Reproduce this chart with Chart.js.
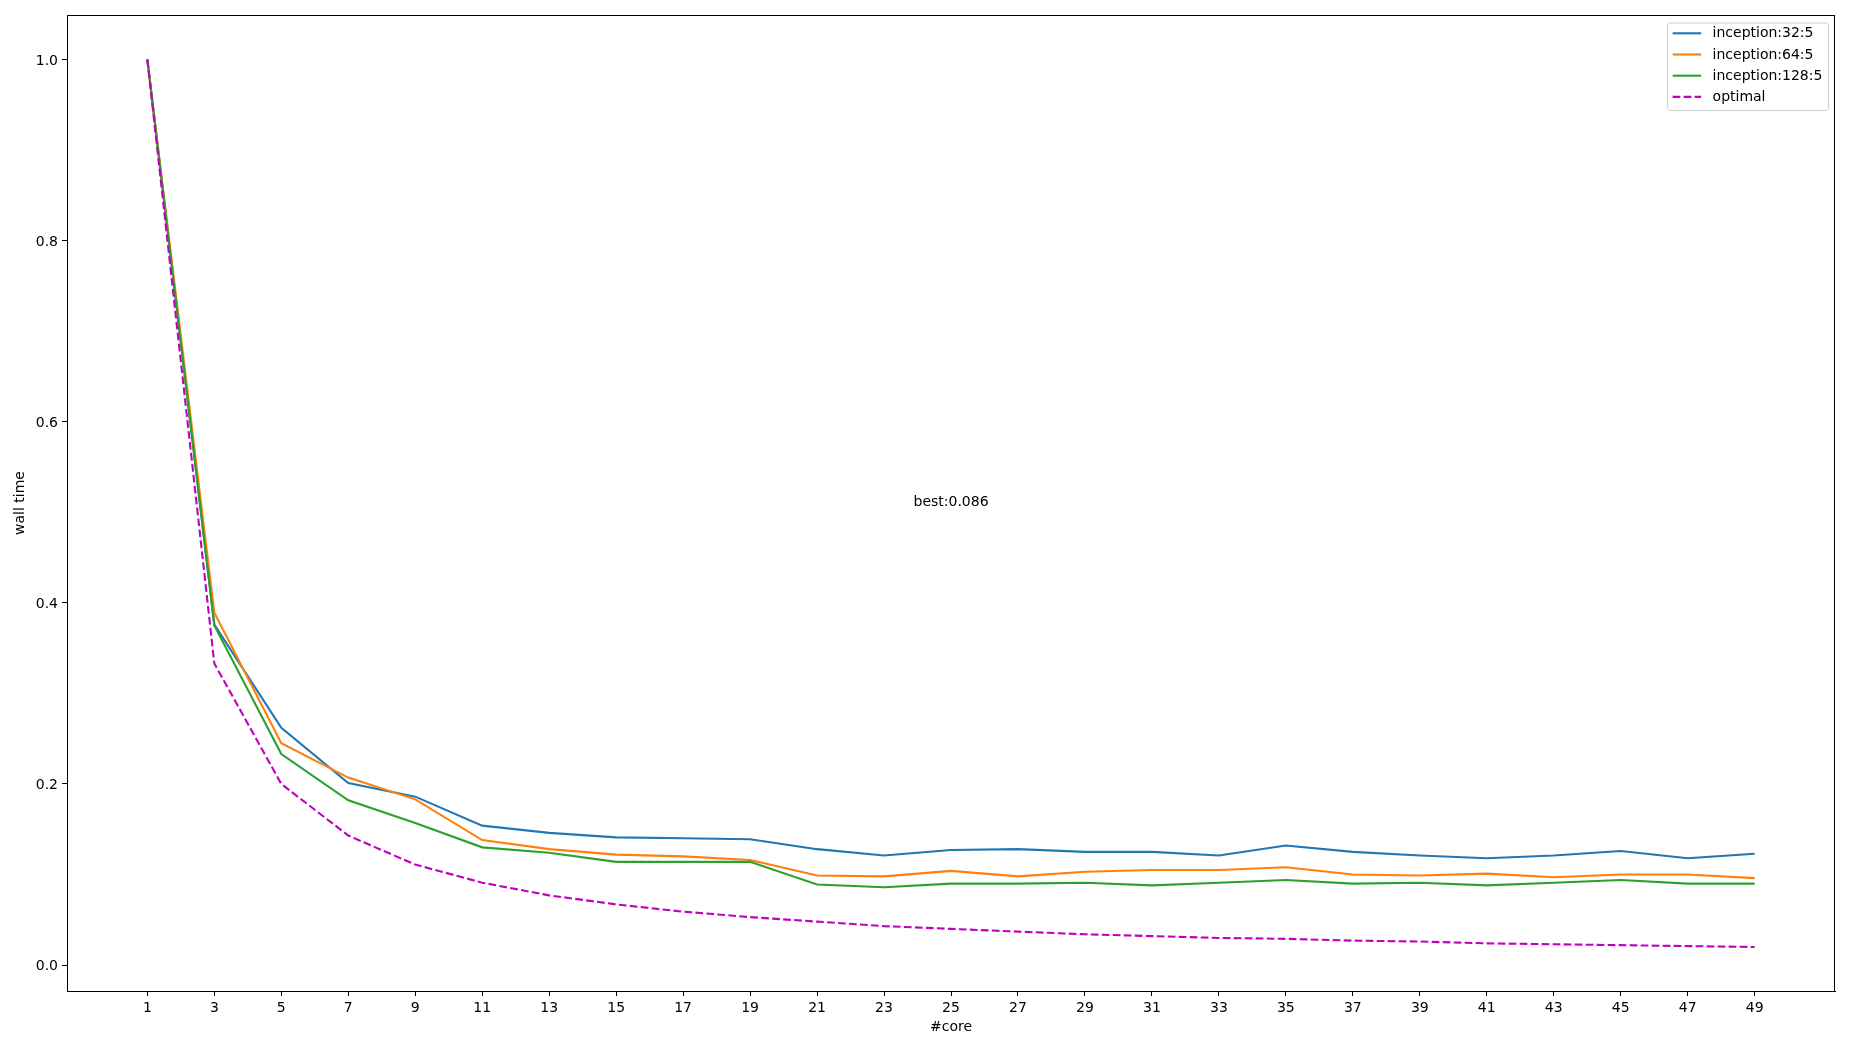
<!DOCTYPE html>
<html>
<head>
<meta charset="utf-8">
<script src="https://cdn.jsdelivr.net/npm/chart.js@4.4.1/dist/chart.umd.min.js"></script>
<style>
  html, body { margin: 0; padding: 0; background: #fff; }
  #wrap { width: 1850px; height: 1050px; }
</style>
</head>
<body>
<div id="wrap"><canvas id="c" width="1850" height="1050"></canvas></div>
<script>
const cores = [1,3,5,7,9,11,13,15,17,19,21,23,25,27,29,31,33,35,37,39,41,43,45,47,49];
const xTickLabels = cores.map(String);
const yTickValues = [0.0, 0.2, 0.4, 0.6, 0.8, 1.0];

const seriesNames = ['inception:32:5', 'inception:64:5', 'inception:128:5', 'optimal'];
const inception32 = [1.0, 0.376, 0.262, 0.201, 0.186, 0.154, 0.146, 0.141, 0.140, 0.139, 0.128, 0.121, 0.127, 0.128, 0.125, 0.125, 0.121, 0.132, 0.125, 0.121, 0.118, 0.121, 0.126, 0.118, 0.123];
const inception64 = [1.0, 0.389, 0.245, 0.207, 0.183, 0.138, 0.128, 0.122, 0.120, 0.116, 0.099, 0.098, 0.104, 0.098, 0.103, 0.105, 0.105, 0.108, 0.100, 0.099, 0.101, 0.097, 0.100, 0.100, 0.096];
const inception128 = [1.0, 0.375, 0.233, 0.182, 0.157, 0.130, 0.124, 0.114, 0.114, 0.114, 0.089, 0.086, 0.090, 0.090, 0.091, 0.088, 0.091, 0.094, 0.090, 0.091, 0.088, 0.091, 0.094, 0.090, 0.090];
const optimal = [1.0, 0.333, 0.200, 0.143, 0.111, 0.091, 0.077, 0.067, 0.059, 0.053, 0.048, 0.043, 0.040, 0.037, 0.034, 0.032, 0.030, 0.029, 0.027, 0.026, 0.024, 0.023, 0.022, 0.021, 0.020];

const annotationText = 'best:0.086';
const annotationX = 23.88;
const annotationY = 0.507;

const FONT = '"DejaVu Sans", sans-serif';
const FS = 14;

function pts(arr) { return cores.map((c, i) => ({x: c, y: arr[i]})); }

const frameAndExtras = {
  id: 'frameAndExtras',
  afterDraw(chart) {
    const ctx = chart.ctx;
    const a = chart.chartArea;
    ctx.save();
    // frame
    ctx.strokeStyle = '#000';
    ctx.lineWidth = 1;
    ctx.strokeRect(Math.round(a.left) + 0.5, Math.round(a.top) + 0.5, Math.round(a.right - a.left) - 1, Math.round(a.bottom - a.top));
    // annotation text
    const xs = chart.scales.x, ys = chart.scales.y;
    ctx.fillStyle = '#000';
    ctx.font = FS + 'px ' + FONT;
    ctx.textAlign = 'left';
    ctx.textBaseline = 'alphabetic';
    ctx.fillText(annotationText, xs.getPixelForValue(annotationX), ys.getPixelForValue(annotationY));
    // legend
    const ds = chart.data.datasets;
    let maxW = 0;
    ds.forEach(d => { maxW = Math.max(maxW, ctx.measureText(d.label).width); });
    const pad = 5.6, handle = 28.5, gap = 11.4, rowH = 21.2;
    const w = pad + handle + gap + maxW + pad;
    const h = 87.5;
    const right = a.right - 7;
    const top = a.top + 7.5;
    const left = right - w;
    ctx.beginPath();
    if (ctx.roundRect) ctx.roundRect(left + 0.5, top + 0.5, w, h, 3); else ctx.rect(left + 0.5, top + 0.5, w, h);
    ctx.fillStyle = 'rgba(255,255,255,0.8)';
    ctx.fill();
    ctx.strokeStyle = '#cccccc';
    ctx.lineWidth = 1;
    ctx.stroke();
    ds.forEach((d, i) => {
      const cy = top + 10.8 + i * rowH;
      ctx.beginPath();
      ctx.strokeStyle = d.borderColor;
      ctx.lineWidth = d.borderWidth;
      ctx.setLineDash(d.borderDash || []);
      ctx.moveTo(left + pad, cy);
      ctx.lineTo(left + pad + handle, cy);
      ctx.stroke();
      ctx.setLineDash([]);
      ctx.fillStyle = '#000';
      ctx.textBaseline = 'middle';
      ctx.fillText(d.label, left + pad + handle + gap, cy + 0.5);
    });
    ctx.restore();
  }
};

const colors = ['#1f77b4', '#ff7f0e', '#2ca02c', '#bf00bf'];
const allSeries = [inception32, inception64, inception128, optimal];

new Chart(document.getElementById('c'), {
  type: 'line',
  data: {
    datasets: allSeries.map((s, i) => ({
      label: seriesNames[i],
      data: pts(s),
      order: allSeries.length - 1 - i,
      borderColor: colors[i],
      backgroundColor: colors[i],
      borderWidth: 2.1,
      borderDash: i === 3 ? [7.7, 3.3] : [],
      pointRadius: 0,
      pointHoverRadius: 0,
      tension: 0,
      fill: false
    }))
  },
  options: {
    responsive: false,
    devicePixelRatio: 1,
    animation: false,
    layout: { padding: { top: 15, right: 15, left: 0, bottom: 0 } },
    plugins: { legend: { display: false }, tooltip: { enabled: false } },
    scales: {
      x: {
        type: 'linear',
        min: -1.4,
        max: 51.4,
        afterBuildTicks(scale) { scale.ticks = cores.map(v => ({value: v})); },
        afterFit(scale) { scale.height = 59; },
        ticks: {
          autoSkip: false,
          maxRotation: 0,
          padding: 4,
          color: '#000',
          font: { family: FONT, size: FS },
          callback: (v) => { const k = cores.indexOf(v); return k >= 0 ? xTickLabels[k] : ''; }
        },
        grid: { drawOnChartArea: false, drawTicks: true, tickLength: 5, color: '#000', lineWidth: 1 },
        border: { display: true, color: '#000', width: 1 },
        title: { display: true, text: '#core', color: '#000', font: { family: FONT, size: FS }, padding: { top: 0, bottom: 14 } }
      },
      y: {
        type: 'linear',
        min: -0.0286,
        max: 1.049,
        afterBuildTicks(scale) { scale.ticks = yTickValues.map(v => ({value: v})); },
        afterFit(scale) { scale.width = 67; },
        ticks: {
          padding: 4,
          labelOffset: 1.5,
          color: '#000',
          font: { family: FONT, size: FS },
          callback: (v) => Number(v).toFixed(1)
        },
        grid: { drawOnChartArea: false, drawTicks: true, tickLength: 5, color: '#000', lineWidth: 1 },
        border: { display: true, color: '#000', width: 1 },
        title: { display: true, text: 'wall time', color: '#000', font: { family: FONT, size: FS }, padding: { top: 11.5, bottom: 0 } }
      }
    }
  },
  plugins: [frameAndExtras]
});
</script>
</body>
</html>
